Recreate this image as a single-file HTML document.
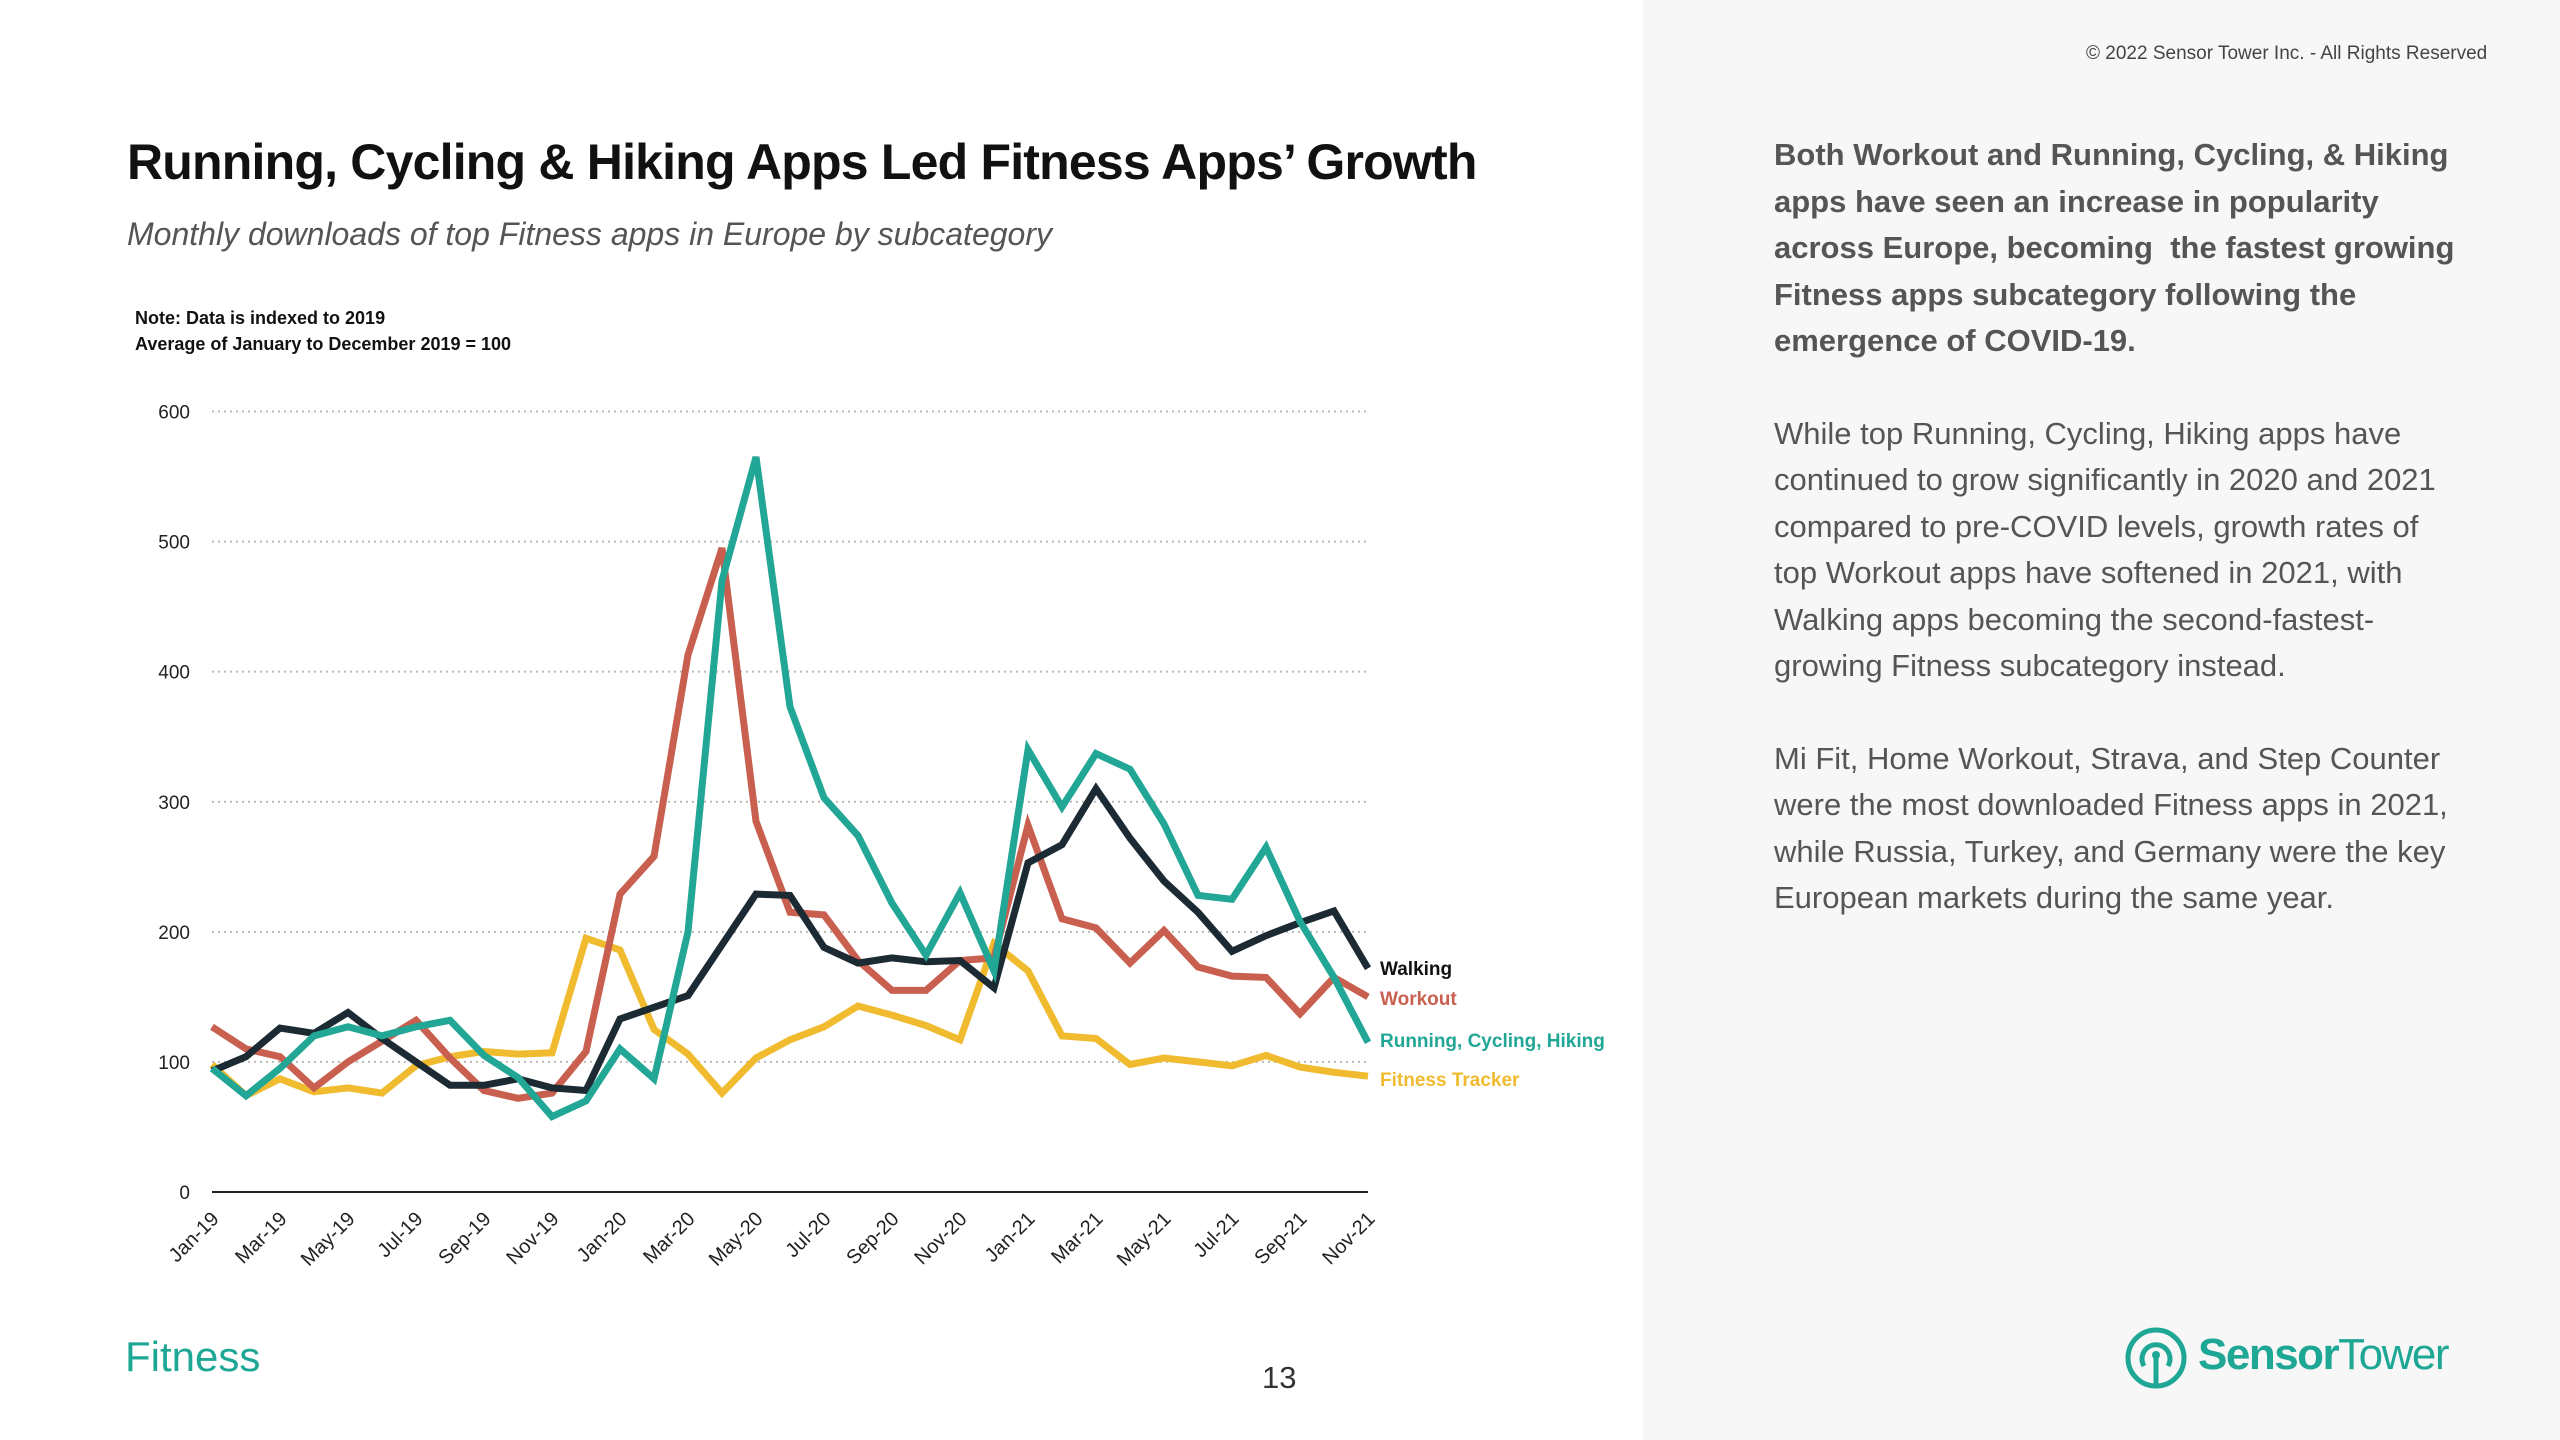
<!DOCTYPE html>
<html><head><meta charset="utf-8">
<style>
body{margin:0;width:2560px;height:1440px;overflow:hidden;background:#fff;font-family:"Liberation Sans",sans-serif;position:relative}
.abs{position:absolute}
#right{left:1643px;top:0;width:917px;height:1440px;background:#f7f7f7}
</style></head>
<body>
<div id="right" class="abs"></div>
<div class="abs" style="left:2086px;top:43px;font-size:19px;color:#444">© 2022 Sensor Tower Inc. - All Rights Reserved</div>
<div class="abs" style="left:127px;top:133px;font-size:50px;font-weight:bold;color:#111;letter-spacing:-0.8px">Running, Cycling &amp; Hiking Apps Led Fitness Apps’ Growth</div>
<div class="abs" style="left:127px;top:216px;font-size:32px;font-style:italic;color:#555">Monthly downloads of top Fitness apps in Europe by subcategory</div>
<div class="abs" style="left:135px;top:305px;font-size:18px;font-weight:bold;color:#111;line-height:26px">Note: Data is indexed to 2019<br>Average of January to December 2019 = 100</div>
<div class="abs" style="left:1774px;top:132px;width:690px;font-size:31px;line-height:46.5px;color:#555">
<div style="font-weight:bold">Both Workout and Running, Cycling, &amp; Hiking apps have seen an increase in popularity across Europe, becoming&nbsp; the fastest growing Fitness apps subcategory following the emergence of COVID-19.</div>
<div style="margin-top:46px">While top Running, Cycling, Hiking apps have continued to grow significantly in 2020 and 2021 compared to pre-COVID levels, growth rates of top Workout apps have softened in 2021, with Walking apps becoming the second-fastest-growing Fitness subcategory instead.</div>
<div style="margin-top:46px">Mi Fit, Home Workout, Strava, and Step Counter were the most downloaded Fitness apps in 2021, while Russia, Turkey, and Germany were the key European markets during the same year.</div>
</div>
<div class="abs" style="left:125px;top:1333px;font-size:42px;color:#1fa796">Fitness</div>
<div class="abs" style="left:1262px;top:1360px;font-size:31px;color:#333">13</div>
<div class="abs" style="left:2124px;top:1326px;width:400px;height:64px">
<svg width="64" height="64" style="position:absolute;left:0;top:0"><circle cx="32" cy="32" r="28" fill="none" stroke="#1fa796" stroke-width="5"/><path d="M20 40 A14 14 0 1 1 44 40" fill="none" stroke="#1fa796" stroke-width="5"/><line x1="32" y1="30" x2="32" y2="58" stroke="#1fa796" stroke-width="5"/><circle cx="32" cy="29" r="4" fill="#1fa796"/></svg>
<div style="position:absolute;left:74px;top:4px;font-size:44px;color:#1fa796;letter-spacing:-1.5px;white-space:nowrap"><b>Sensor</b>Tower</div>
</div>
<svg id="chart" class="abs" style="left:0;top:0" width="1643" height="1440"></svg>
<script>
const months=["Jan-19","Feb-19","Mar-19","Apr-19","May-19","Jun-19","Jul-19","Aug-19","Sep-19","Oct-19","Nov-19","Dec-19","Jan-20","Feb-20","Mar-20","Apr-20","May-20","Jun-20","Jul-20","Aug-20","Sep-20","Oct-20","Nov-20","Dec-20","Jan-21","Feb-21","Mar-21","Apr-21","May-21","Jun-21","Jul-21","Aug-21","Sep-21","Oct-21","Nov-21"];
const yTicks=[0,100,200,300,400,500,600];
const walking=[93,104,126,122,138,118,100,82,82,87,80,78,133,142,151,190,229,228,188,176,180,177,178,157,253,267,310,272,239,215,185,197,207,216,172];
const workout=[127,110,104,80,100,116,132,103,78,72,76,108,229,258,413,495,285,215,213,178,155,155,178,180,282,210,203,176,201,173,166,165,137,165,150];
const running=[95,74,95,120,127,120,127,132,105,88,58,70,110,87,200,470,565,373,303,274,222,182,230,170,340,296,337,325,283,228,225,265,208,165,115];
const tracker=[98,74,87,77,80,76,97,104,108,106,107,195,186,125,106,76,103,117,127,143,136,128,117,191,170,120,118,98,103,100,97,105,96,92,89];
const seriesNames=["Walking","Workout","Running, Cycling, Hiking","Fitness Tracker"];
const NS="http://www.w3.org/2000/svg";
const svg=document.getElementById('chart');
const X0=212,X1=1368,Y0=1192,Y1=411.5,YMAX=600;
function xs(i){return X0+(X1-X0)*i/(months.length-1);}
function ys(v){return Y0-(Y0-Y1)*v/YMAX;}
function mk(t,a){const e=document.createElementNS(NS,t);for(const k in a)e.setAttribute(k,a[k]);svg.appendChild(e);return e;}
yTicks.forEach(v=>{
 if(v>0){const g=mk('line',{x1:X0,x2:X1,y1:ys(v),y2:ys(v),stroke:'#bbb','stroke-width':2,'stroke-dasharray':'2 4'});
 
 }
 const t=mk('text',{x:190,y:ys(v)+7,'text-anchor':'end','font-size':19,fill:'#222'});
 t.textContent=v;
 
 
});
const ax=mk('line',{x1:X0,x2:X1,y1:Y0,y2:Y0,stroke:'#222','stroke-width':2});


months.forEach((m,i)=>{
 if(i%2)return;
 const x=xs(i),y=Y0+22;
 const t=mk('text',{x:x+8,y:y+6,'text-anchor':'end','font-size':20,fill:'#222',transform:`rotate(-45 ${x+8} ${y+6})`});
 t.textContent=m;
 
 
});
const colors=['#1c2b33','#c9604f','#22a695','#f0bb2f'];
const data=[walking,workout,running,tracker];
const order=[3,1,0,2];
order.forEach(k=>{
 const d=data[k].map((v,i)=>(i?'L':'M')+xs(i).toFixed(1)+' '+ys(v).toFixed(1)).join(' ');
 const p=mk('path',{d:d,fill:'none',stroke:colors[k],'stroke-width':7,'stroke-linejoin':'miter'});
 
 
});
const labelY=[975,1005,1047,1086];
seriesNames.forEach((n,k)=>{
 const t=mk('text',{x:1380,y:labelY[k],'font-size':19,'font-weight':'bold',fill:colors[k]==='#1c2b33'?'#111':colors[k]});
 t.textContent=n;
 
 
});
</script>
</body></html>
